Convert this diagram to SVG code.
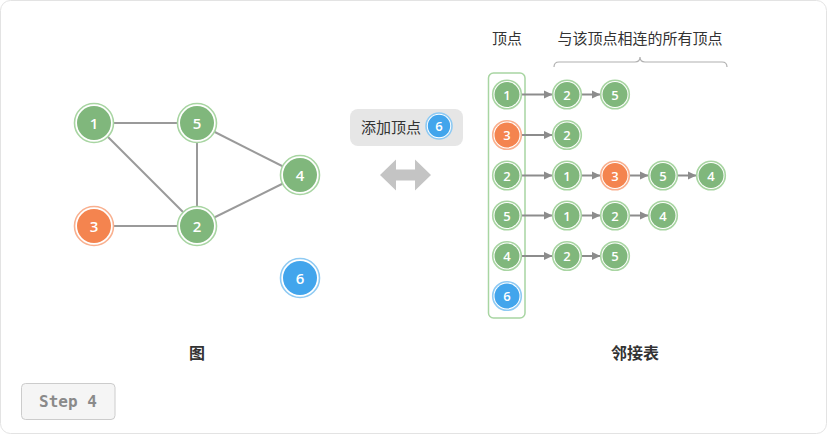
<svg xmlns="http://www.w3.org/2000/svg" width="827" height="434" viewBox="0 0 827 434">
<style>
.ring-g{fill:#ffffff;stroke:#a8d5a2;stroke-width:1.6}
.ring-o{fill:#ffffff;stroke:#f9b08f;stroke-width:1.6}
.ring-b{fill:#ffffff;stroke:#8ecaf3;stroke-width:1.6}
.g{fill:#80b77c}
.o{fill:#f4844f}
.b{fill:#42a5ec}
.nt{font-family:"Open Sans","DejaVu Sans",sans-serif;font-weight:600;fill:#ffffff;text-anchor:middle;dominant-baseline:central}
.big{font-size:15px}
.sm{font-size:13px}
.edge{stroke:#9a9a9a;stroke-width:2;fill:none}
.arr{stroke:#8c8c8c;stroke-width:2;fill:none;marker-end:url(#ah)}
.lbl{font-family:"Noto Sans CJK SC","Noto Sans",sans-serif;fill:#333333;text-anchor:middle}
</style>
<defs>
<marker id="ah" markerUnits="userSpaceOnUse" markerWidth="10" markerHeight="10" refX="9" refY="5" orient="auto">
<path d="M0,0.8 L9,5 L0,9.2 Z" fill="#8c8c8c"/>
</marker>
</defs>
<rect x="0.5" y="0.5" width="826" height="433" rx="10" fill="#ffffff" stroke="#e3e3e3"/>

<g id="graph-edges">
<line class="edge" x1="94" y1="123" x2="197" y2="123"/>
<line class="edge" x1="94" y1="123" x2="197" y2="226"/>
<line class="edge" x1="197" y1="123" x2="197" y2="226"/>
<line class="edge" x1="197" y1="123" x2="300" y2="175"/>
<line class="edge" x1="94" y1="226" x2="197" y2="226"/>
<line class="edge" x1="197" y1="226" x2="300" y2="175"/>
</g>

<g id="g-node-1"><circle class="ring-g" cx="94" cy="123" r="19.5"/><circle class="g" cx="94" cy="123" r="17"/><text class="nt big" x="94" y="123">1</text></g>
<g id="g-node-5"><circle class="ring-g" cx="197" cy="123" r="19.5"/><circle class="g" cx="197" cy="123" r="17"/><text class="nt big" x="197" y="123">5</text></g>
<g id="g-node-4"><circle class="ring-g" cx="300" cy="175" r="19.5"/><circle class="g" cx="300" cy="175" r="17"/><text class="nt big" x="300" y="175">4</text></g>
<g id="g-node-3"><circle class="ring-o" cx="94" cy="226" r="19.5"/><circle class="o" cx="94" cy="226" r="17"/><text class="nt big" x="94" y="226">3</text></g>
<g id="g-node-2"><circle class="ring-g" cx="197" cy="226" r="19.5"/><circle class="g" cx="197" cy="226" r="17"/><text class="nt big" x="197" y="226">2</text></g>
<g id="g-node-6"><circle class="ring-b" cx="300" cy="278" r="19.5"/><circle class="b" cx="300" cy="278" r="17"/><text class="nt big" x="300" y="278">6</text></g>

<g id="add-label">
<rect x="350" y="109" width="113" height="37" rx="8" fill="#e6e6e6"/>
<text class="lbl" x="391" y="133" font-size="15" fill="#333333">添加顶点</text>
<circle class="ring-b" cx="439" cy="126" r="13"/><circle class="b" cx="439" cy="126" r="11.2"/>
<text class="nt sm" x="439" y="126">6</text>
</g>

<g id="double-arrow">
<path d="M380,175 L396,159.5 L396,169.5 L415,169.5 L415,159.5 L431,175 L415,190.5 L415,180.5 L396,180.5 L396,190.5 Z" fill="#c4c4c4"/>
</g>

<g id="headers">
<text class="lbl" x="507" y="44" font-size="15">顶点</text>
<text class="lbl" x="640" y="44" font-size="15">与该顶点相连的所有顶点</text>
<path d="M554,67 Q554,62 559,62 L635,62 Q640,62 640,57 Q640,62 645,62 L722,62 Q727,62 727,67" fill="none" stroke="#b0b0b0" stroke-width="1.2"/>
</g>

<g id="vertex-column">
<rect x="488.5" y="73" width="36.5" height="245" rx="5" fill="none" stroke="#a8d5a2" stroke-width="1.5"/>
</g>

<g id="connectors">
<line class="arr" x1="521.5" y1="94.5" x2="552.5" y2="94.5"/>
<line class="arr" x1="581.5" y1="94.5" x2="600.5" y2="94.5"/>
<line class="arr" x1="521.5" y1="135" x2="552.5" y2="135"/>
<line class="arr" x1="521.5" y1="175.5" x2="552.5" y2="175.5"/>
<line class="arr" x1="581.5" y1="175.5" x2="600.5" y2="175.5"/>
<line class="arr" x1="629.5" y1="175.5" x2="648.5" y2="175.5"/>
<line class="arr" x1="677.5" y1="175.5" x2="696.5" y2="175.5"/>
<line class="arr" x1="521.5" y1="215.5" x2="552.5" y2="215.5"/>
<line class="arr" x1="581.5" y1="215.5" x2="600.5" y2="215.5"/>
<line class="arr" x1="629.5" y1="215.5" x2="648.5" y2="215.5"/>
<line class="arr" x1="521.5" y1="256" x2="552.5" y2="256"/>
<line class="arr" x1="581.5" y1="256" x2="600.5" y2="256"/>
</g>

<g id="v-1"><circle class="ring-g" cx="507" cy="94.5" r="14.3"/><circle class="g" cx="507" cy="94.5" r="12.5"/><text class="nt sm" x="507" y="94.5">1</text></g>
<g id="v-3"><circle class="ring-o" cx="507" cy="135" r="14.3"/><circle class="o" cx="507" cy="135" r="12.5"/><text class="nt sm" x="507" y="135">3</text></g>
<g id="v-2"><circle class="ring-g" cx="507" cy="175.5" r="14.3"/><circle class="g" cx="507" cy="175.5" r="12.5"/><text class="nt sm" x="507" y="175.5">2</text></g>
<g id="v-5"><circle class="ring-g" cx="507" cy="215.5" r="14.3"/><circle class="g" cx="507" cy="215.5" r="12.5"/><text class="nt sm" x="507" y="215.5">5</text></g>
<g id="v-4"><circle class="ring-g" cx="507" cy="256" r="14.3"/><circle class="g" cx="507" cy="256" r="12.5"/><text class="nt sm" x="507" y="256">4</text></g>
<g id="v-6"><circle class="ring-b" cx="507" cy="296" r="14.3"/><circle class="b" cx="507" cy="296" r="12.5"/><text class="nt sm" x="507" y="296">6</text></g>

<g id="l-1-2"><circle class="ring-g" cx="567" cy="94.5" r="14.3"/><circle class="g" cx="567" cy="94.5" r="12.5"/><text class="nt sm" x="567" y="94.5">2</text></g>
<g id="l-1-5"><circle class="ring-g" cx="615" cy="94.5" r="14.3"/><circle class="g" cx="615" cy="94.5" r="12.5"/><text class="nt sm" x="615" y="94.5">5</text></g>
<g id="l-3-2"><circle class="ring-g" cx="567" cy="135" r="14.3"/><circle class="g" cx="567" cy="135" r="12.5"/><text class="nt sm" x="567" y="135">2</text></g>
<g id="l-2-1"><circle class="ring-g" cx="567" cy="175.5" r="14.3"/><circle class="g" cx="567" cy="175.5" r="12.5"/><text class="nt sm" x="567" y="175.5">1</text></g>
<g id="l-2-3"><circle class="ring-o" cx="615" cy="175.5" r="14.3"/><circle class="o" cx="615" cy="175.5" r="12.5"/><text class="nt sm" x="615" y="175.5">3</text></g>
<g id="l-2-5"><circle class="ring-g" cx="663" cy="175.5" r="14.3"/><circle class="g" cx="663" cy="175.5" r="12.5"/><text class="nt sm" x="663" y="175.5">5</text></g>
<g id="l-2-4"><circle class="ring-g" cx="711" cy="175.5" r="14.3"/><circle class="g" cx="711" cy="175.5" r="12.5"/><text class="nt sm" x="711" y="175.5">4</text></g>
<g id="l-5-1"><circle class="ring-g" cx="567" cy="215.5" r="14.3"/><circle class="g" cx="567" cy="215.5" r="12.5"/><text class="nt sm" x="567" y="215.5">1</text></g>
<g id="l-5-2"><circle class="ring-g" cx="615" cy="215.5" r="14.3"/><circle class="g" cx="615" cy="215.5" r="12.5"/><text class="nt sm" x="615" y="215.5">2</text></g>
<g id="l-5-4"><circle class="ring-g" cx="663" cy="215.5" r="14.3"/><circle class="g" cx="663" cy="215.5" r="12.5"/><text class="nt sm" x="663" y="215.5">4</text></g>
<g id="l-4-2"><circle class="ring-g" cx="567" cy="256" r="14.3"/><circle class="g" cx="567" cy="256" r="12.5"/><text class="nt sm" x="567" y="256">2</text></g>
<g id="l-4-5"><circle class="ring-g" cx="615" cy="256" r="14.3"/><circle class="g" cx="615" cy="256" r="12.5"/><text class="nt sm" x="615" y="256">5</text></g>

<g id="captions">
<text class="lbl" x="197" y="359" font-size="16" font-weight="bold">图</text>
<text class="lbl" x="635" y="359" font-size="16" font-weight="bold">邻接表</text>
</g>

<g id="step">
<rect x="21.5" y="383.5" width="93.5" height="36" rx="4" fill="#f5f5f5" stroke="#cccccc"/>
<text x="68" y="407" font-family="'DejaVu Sans Mono','Liberation Mono',monospace" font-size="16" font-weight="bold" fill="#8a8a8a" text-anchor="middle">Step 4</text>
</g>
</svg>
